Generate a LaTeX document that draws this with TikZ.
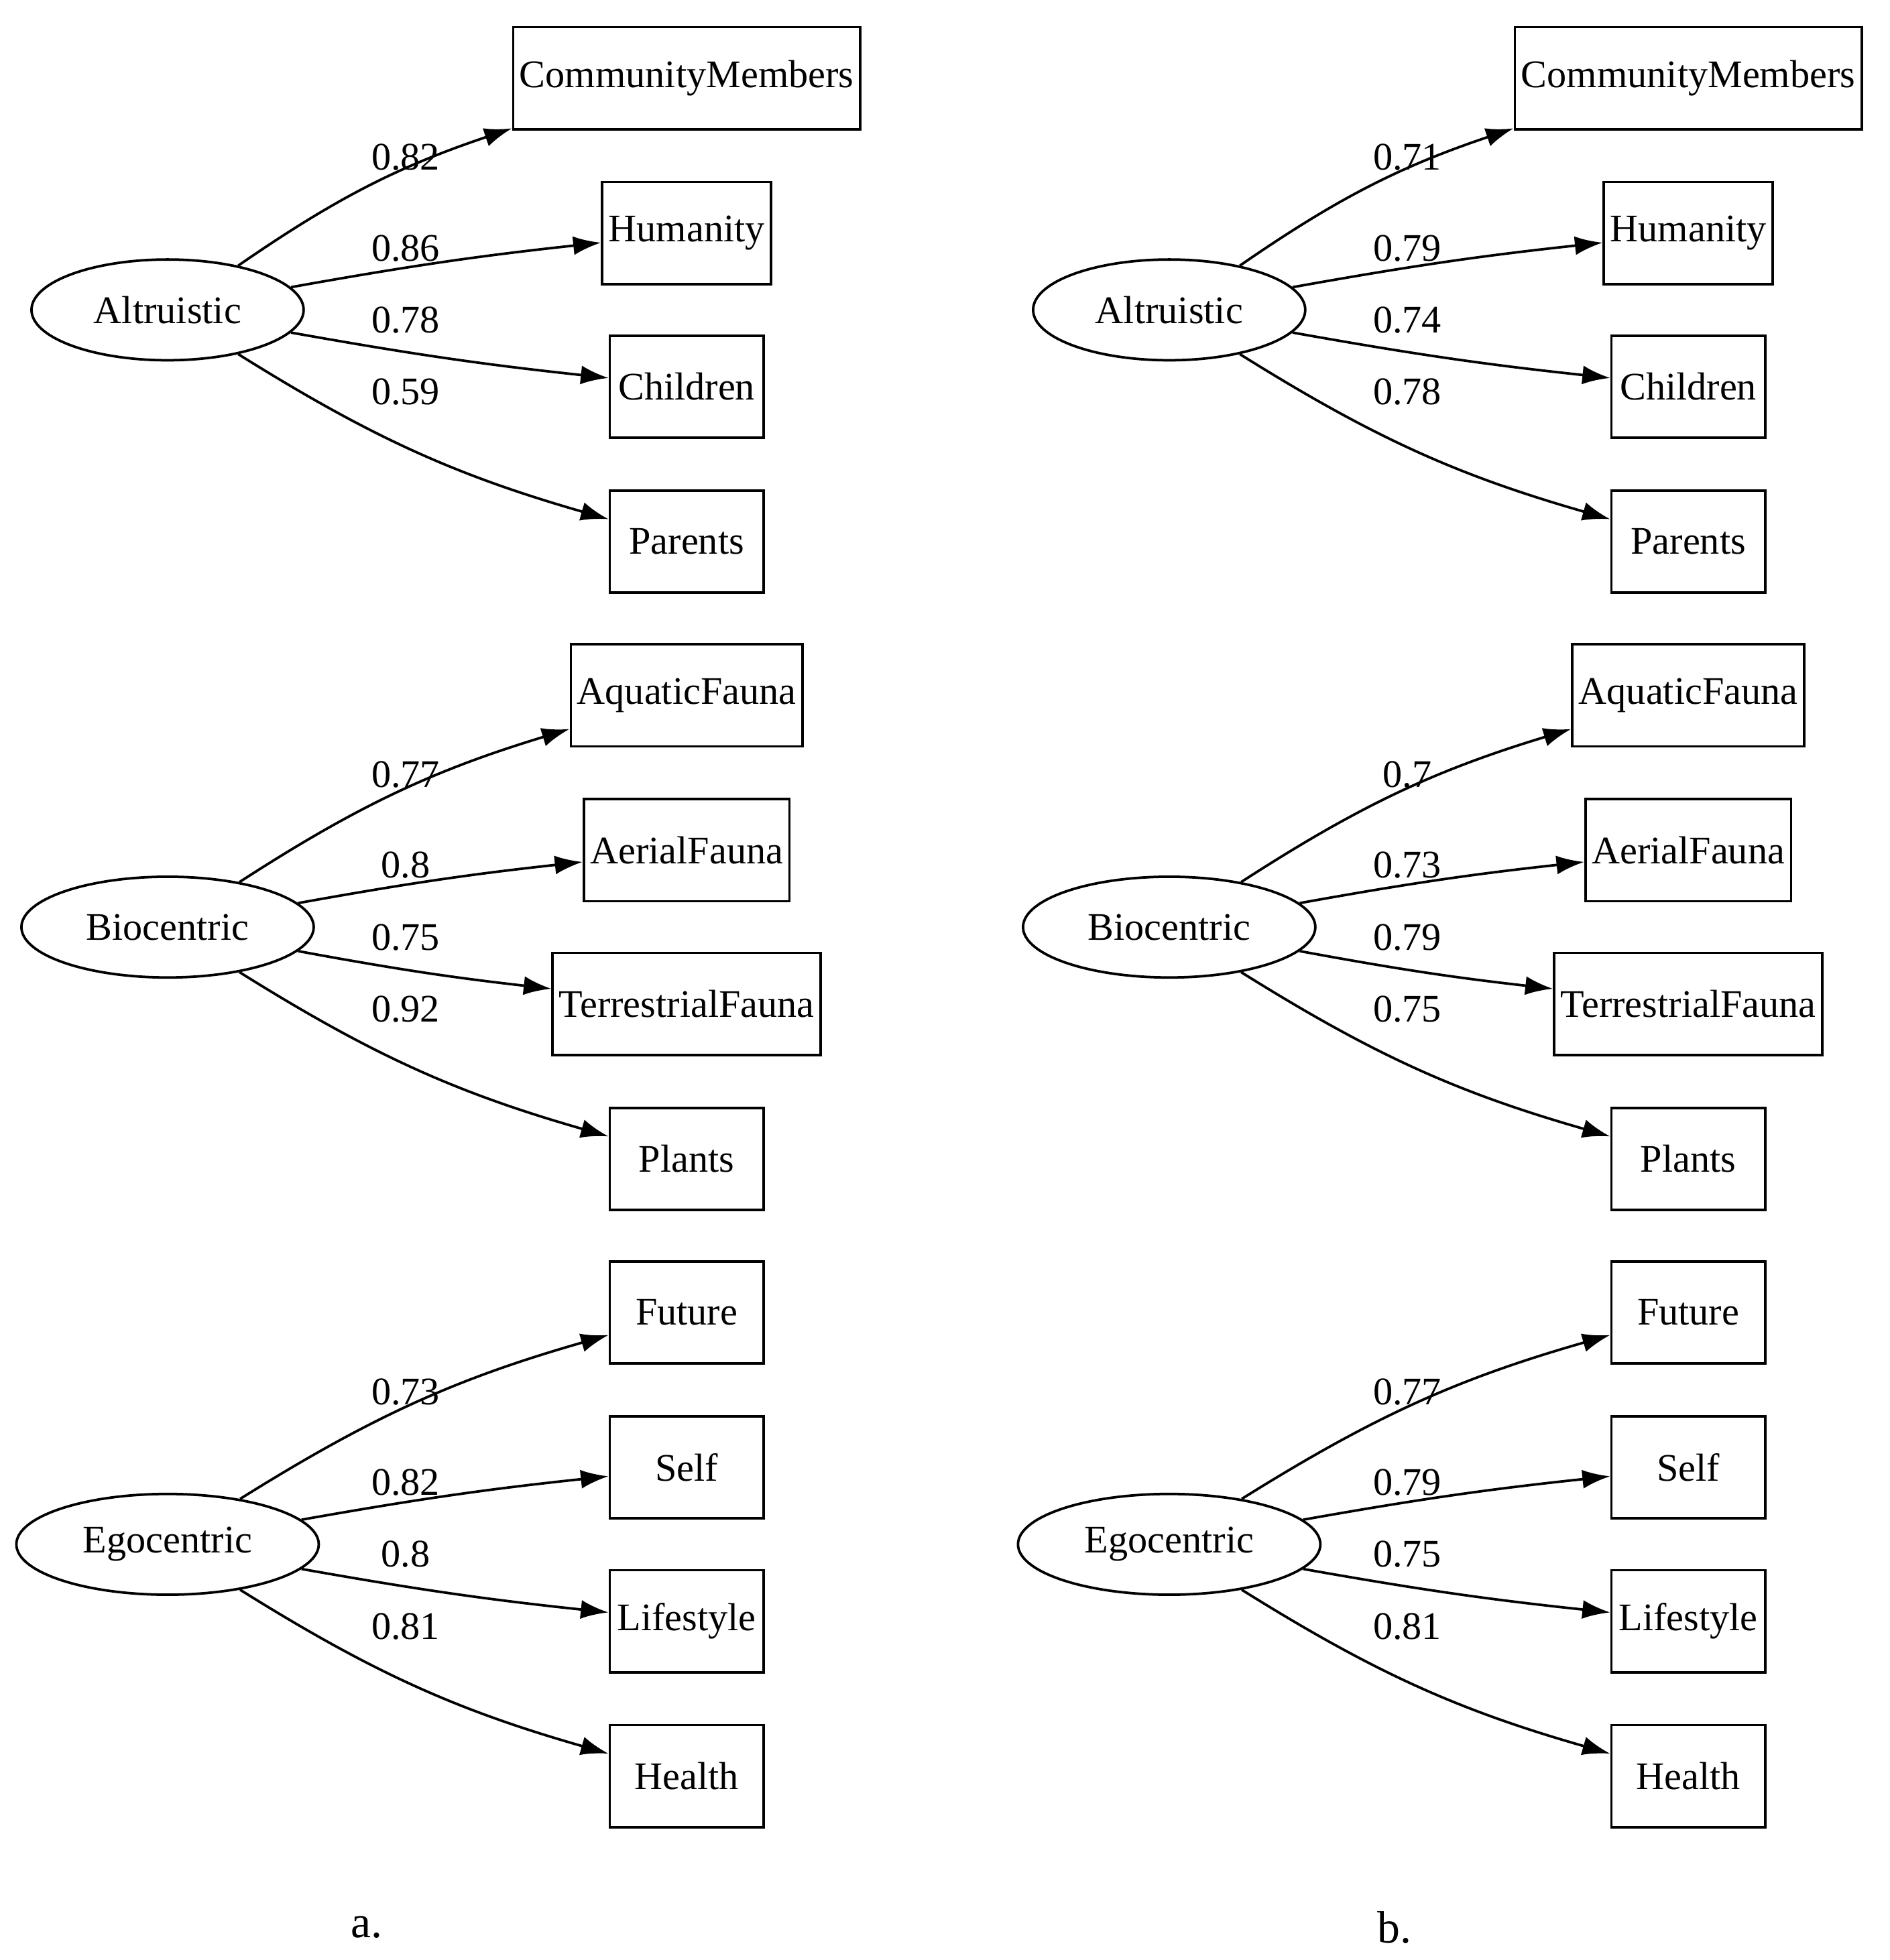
\documentclass[tikz,border=0pt]{standalone}
\usepackage{fontspec}
\setmainfont{Liberation Serif}
\usetikzlibrary{shapes.geometric,arrows.meta}
\tikzset{
 lat/.style={ellipse,draw,line width=2pt,minimum height=80pt,inner sep=0pt,font=\fontsize{31}{31}\selectfont},
 obs/.style={rectangle,draw,line width=2pt,minimum height=81pt,minimum width=122pt,inner xsep=5pt,font=\fontsize{31}{31}\selectfont},
 ed/.style={line width=2pt,-{Latex[length=22pt,width=15pt]}},
 lab/.style={font=\fontsize{31}{31}\selectfont},
}
\newcommand{\grp}[8]{%
 \node[lat,minimum width=#8pt] (#1e) at (#2) {#3};
 \node[obs] (#1b1) at ($(#2)+(412,-184)$) {#4};
 \node[obs] (#1b2) at ($(#2)+(412,-61)$) {#5};
 \node[obs] (#1b3) at ($(#2)+(412,61)$) {#6};
 \node[obs] (#1b4) at ($(#2)+(412,184)$) {#7};
}
\newcommand{\eds}[6]{%
 \draw[ed] (#1e) to[bend left=8] (#1b1);
 \draw[ed] (#1e) to[bend left=2] (#1b2);
 \draw[ed] (#1e) to[bend right=2] (#1b3);
 \draw[ed] (#1e) to[bend right=8] (#1b4);
 \node[lab] (#1l1) at ($(#2)+(189,-121)$) {#3};
 \node[lab] (#1l2) at ($(#2)+(189,-49)$) {#4};
 \node[lab] (#1l3) at ($(#2)+(189,8)$) {#5};
 \node[lab] (#1l4) at ($(#2)+(189,65)$) {#6};
}
\usetikzlibrary{calc}
\begin{document}
\begin{tikzpicture}[x=1pt,y=-1pt]
\useasboundingbox (0,0) rectangle (1500,1556);
\grp{aa}{133,246}{Altruistic}{CommunityMembers}{Humanity}{Children}{Parents}{216}
\grp{ab}{133,736}{Biocentric}{AquaticFauna}{AerialFauna}{TerrestrialFauna}{Plants}{232}
\grp{ac}{133,1226}{Egocentric}{Future}{Self}{Lifestyle}{Health}{240}
\grp{ba}{928,246}{Altruistic}{CommunityMembers}{Humanity}{Children}{Parents}{216}
\grp{bb}{928,736}{Biocentric}{AquaticFauna}{AerialFauna}{TerrestrialFauna}{Plants}{232}
\grp{bc}{928,1226}{Egocentric}{Future}{Self}{Lifestyle}{Health}{240}
\eds{aa}{133,246}{0.82}{0.86}{0.78}{0.59}
\eds{ab}{133,736}{0.77}{0.8}{0.75}{0.92}
\eds{ac}{133,1226}{0.73}{0.82}{0.8}{0.81}
\eds{ba}{928,246}{0.71}{0.79}{0.74}{0.78}
\eds{bb}{928,736}{0.7}{0.73}{0.79}{0.75}
\eds{bc}{928,1226}{0.77}{0.79}{0.75}{0.81}
\node[font=\fontsize{36}{36}\selectfont] (pa) at (291,1530) {a.};
\node[font=\fontsize{36}{36}\selectfont] (pb) at (1107,1530) {b.};
\end{tikzpicture}
\end{document}
